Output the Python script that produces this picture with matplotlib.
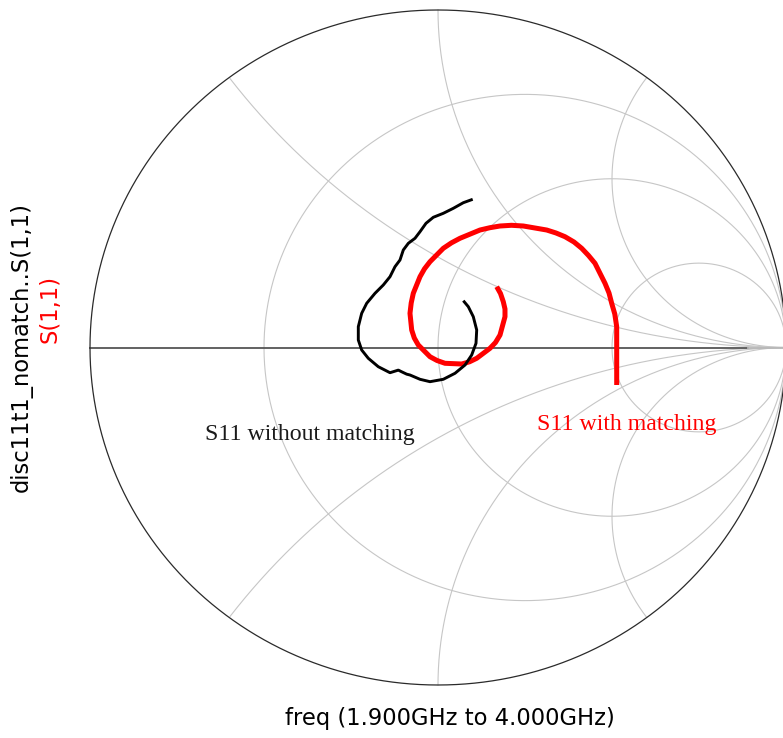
import numpy as np
import matplotlib.pyplot as plt

# S11 (reflection coefficient), real and imaginary parts, 1.9 GHz .. 4.0 GHz
s11_nomatch_re = [0.0997, 0.0727, 0.0440, 0.0152, -0.0135, -0.0345, -0.0517, -0.0661,
                  -0.0853, -0.0997, -0.1092, -0.1236, -0.1379, -0.1572, -0.1810, -0.2049,
                  -0.2193, -0.2290, -0.2290, -0.2193, -0.2003, -0.1716, -0.1379, -0.1140,
                  -0.1043, -0.0900, -0.0805, -0.0517, -0.0230, 0.0152, 0.0489, 0.0776,
                  0.0968, 0.1092, 0.1112, 0.1014, 0.0871, 0.0727]
s11_nomatch_im = [0.4391, 0.4290, 0.4124, 0.3976, 0.3858, 0.3680, 0.3431, 0.3236,
                  0.3087, 0.2889, 0.2593, 0.2394, 0.2098, 0.1852, 0.1606, 0.1310,
                  0.1013, 0.0616, 0.0222, -0.0074, -0.0320, -0.0569, -0.0747, -0.0670,
                  -0.0720, -0.0790, -0.0815, -0.0942, -0.1013, -0.0942, -0.0764, -0.0519,
                  -0.0222, 0.0124, 0.0519, 0.0913, 0.1209, 0.1387]

s11_match_re = [0.5135, 0.5135, 0.5135, 0.5080, 0.4991, 0.4914, 0.4799, 0.4511,
                0.4325, 0.4129, 0.3908, 0.3649, 0.3391, 0.3124, 0.2451, 0.2112,
                0.1782, 0.1494, 0.1207, 0.0632, 0.0388, 0.0152, -0.0230, -0.0388,
                -0.0517, -0.0710, -0.0770, -0.0805, -0.0756, -0.0681, -0.0566, -0.0230,
                -0.0029, 0.0201, 0.0681, 0.0905, 0.1112, 0.1494, 0.1652, 0.1782,
                0.1925, 0.1925, 0.1876, 0.1796, 0.1687]
s11_match_im = [-0.1111, -0.0074, 0.0616, 0.0993, 0.1310, 0.1615, 0.1902, 0.2495,
                0.2726, 0.2939, 0.3126, 0.3283, 0.3393, 0.3481, 0.3600, 0.3621,
                0.3600, 0.3550, 0.3481, 0.3236, 0.3102, 0.2939, 0.2542, 0.2332,
                0.2098, 0.1606, 0.1319, 0.1013, 0.0519, 0.0281, 0.0074, -0.0273,
                -0.0385, -0.0468, -0.0489, -0.0424, -0.0320, -0.0024, 0.0148, 0.0370,
                0.0913, 0.1141, 0.1357, 0.1600, 0.1801]

# smith chart grid values
r_circles = [1/3, 1, 3]
x_arcs = [0.5, 1, 2]

W, H = 783, 738
fig = plt.figure(figsize=(W/100, H/100), dpi=100)
ax = fig.add_axes([90/W, 53/H, 696/W, 675/H])
ax.set_xlim(-1, 1)
ax.set_ylim(-1, 1)
ax.axis('off')

grid_col = '#c6c6c6'
t = np.linspace(0, 2*np.pi, 1441)

# constant resistance circles
for r in r_circles:
    c, rad = r/(1+r), 1/(1+r)
    ax.plot(c + rad*np.cos(t), rad*np.sin(t), color=grid_col, lw=0.8, clip_on=False)

# constant reactance arcs, only the part inside |G| <= 1
for x in x_arcs:
    for s in (1, -1):
        px = 1 + np.cos(t)/x
        py = s/x + np.sin(t)/x
        inside = px**2 + py**2 <= 1.0005
        ax.plot(np.where(inside, px, np.nan), np.where(inside, py, np.nan),
                color=grid_col, lw=0.8, clip_on=False)

# real axis and outer circle
ax.plot([-1, 0.89], [0, 0], color='#555555', lw=1.3, clip_on=False)
ax.plot([0.89, 1], [0, 0], color='#b8b8b8', lw=1.3, clip_on=False)
ax.plot(np.cos(t), np.sin(t), color='#2a2a2a', lw=0.9, clip_on=False)

# traces
ax.plot(s11_match_re, s11_match_im, color='#ff0000', lw=3.6,
        solid_joinstyle='round', solid_capstyle='butt', clip_on=False)
ax.plot(s11_nomatch_re, s11_nomatch_im, color='black', lw=2.1,
        solid_joinstyle='round', solid_capstyle='butt', clip_on=False)

# annotations
fig.text(310/W, 1 - 439.7/H, 'S11 without matching', ha='center', va='baseline',
         family='Liberation Serif', fontsize=17.2, color='#1a1a1a')
fig.text(626.5/W, 1 - 430.3/H, 'S11 with matching', ha='center', va='baseline',
         family='Liberation Serif', fontsize=17.2, color='#ff0000')

# axis labels
fig.text(21/W, 1 - 347/H, 'disc11t1_nomatch..S(1,1)', rotation=90, ha='center',
         va='center', family='DejaVu Sans', fontsize=16.3, color='black')
fig.text(49.5/W, 1 - 309/H, 'S(1,1)', rotation=90, ha='center', va='center',
         family='DejaVu Sans', fontsize=16.3, color='#ff0000')
fig.text(450/W, 1 - 718/H, 'freq (1.900GHz to 4.000GHz)', ha='center', va='center',
         family='DejaVu Sans', fontsize=16.3, color='black')

fig.savefig('out.png', dpi=100, facecolor='white')
